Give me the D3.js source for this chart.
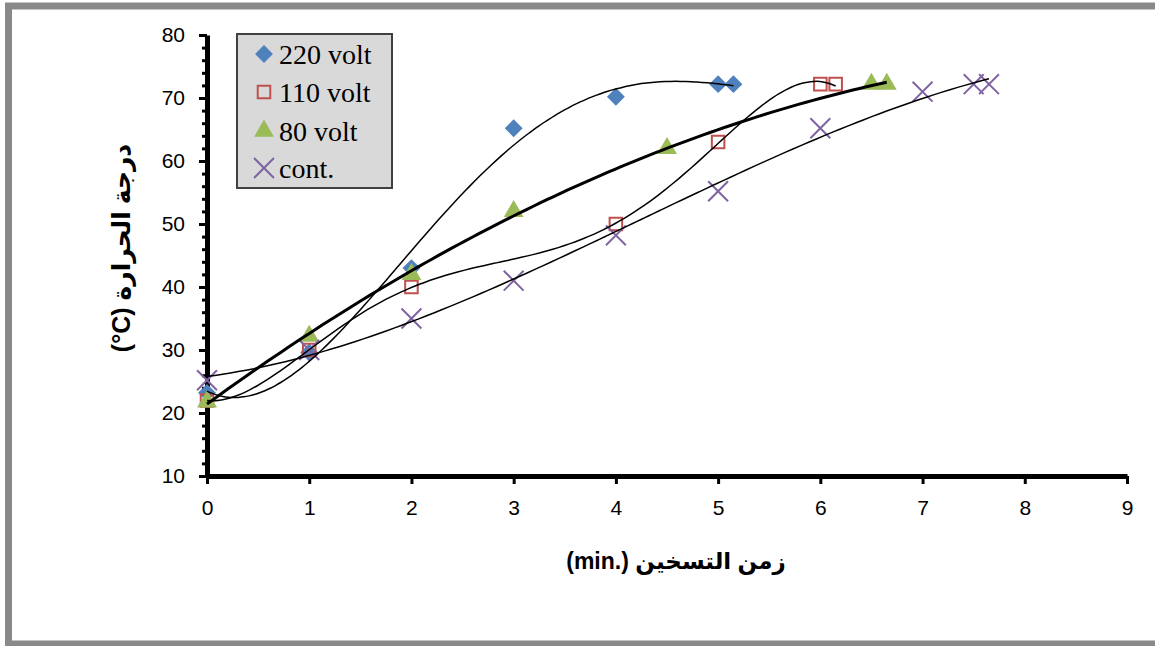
<!DOCTYPE html>
<html>
<head>
<meta charset="utf-8">
<script src="https://cdn.jsdelivr.net/npm/d3@7"></script>
<style>
  body { margin: 0; background: #fff; }
  svg { display: block; }
</style>
</head>
<body>
<div id="chart"></div>
<script>
// heating time (min.) and temperature (C)
var seriesNames = ["220 volt", "110 volt", "80 volt", "cont."];
var x220 = [0, 1, 2, 3, 4, 5, 5.15];
var t220 = [23.2, 29.6, 43, 65.2, 70.2, 72.2, 72.2];
var x110 = [0, 1, 2, 4, 5, 6, 6.15];
var t110 = [22, 30, 40, 50, 63, 72.2, 72.2];
var x80 = [0, 1, 2, 3, 4.5, 6.5, 6.65];
var t80 = [21.8, 32.2, 42, 52, 62, 72.2, 72.2];
var xCont = [0, 1, 2, 3, 4, 5, 6, 7, 7.5, 7.65];
var tCont = [25.2, 30, 35, 41, 48.2, 55.2, 65.2, 71, 72.2, 72.2];
// polynomial order of each trendline
var fitOrder = [4, 5, 2, 3];
var xTicks = [0, 1, 2, 3, 4, 5, 6, 7, 8, 9];
var yTicks = [10, 20, 30, 40, 50, 60, 70, 80];
var yMinor = d3.range(10, 81, 2);

var width = 1155, height = 646;
var colors = ["#4f81bd", "#c0504d", "#9bbb59", "#8064a2"];

var series = [
  {name: seriesNames[0], xs: x220, ys: t220},
  {name: seriesNames[1], xs: x110, ys: t110},
  {name: seriesNames[2], xs: x80, ys: t80},
  {name: seriesNames[3], xs: xCont, ys: tCont}
];

var svg = d3.select("#chart").append("svg")
    .attr("width", width).attr("height", height);

// grey frame round the whole chart
svg.append("rect")
    .attr("x", 8.5).attr("y", 6)
    .attr("width", 1170).attr("height", 638)
    .attr("fill", "none")
    .attr("stroke", "#898989")
    .attr("stroke-width", 7);

var x = d3.scaleLinear().domain([0, 9]).range([207, 1127]);
var y = d3.scaleLinear().domain([10, 80]).range([476, 35]);

// least squares polynomial fit, like the excel trendline
function polyfit(xs, ys, n) {
  var m = n + 1, A = [], i, j, k;
  for (i = 0; i < m; i++) {
    A.push([]);
    for (j = 0; j < m; j++) {
      A[i].push(d3.sum(xs, function(v) { return Math.pow(v, i + j); }));
    }
    A[i].push(d3.sum(xs, function(v, idx) { return Math.pow(v, i) * ys[idx]; }));
  }
  for (i = 0; i < m; i++) {
    var p = i;
    for (k = i + 1; k < m; k++) if (Math.abs(A[k][i]) > Math.abs(A[p][i])) p = k;
    var tmp = A[i]; A[i] = A[p]; A[p] = tmp;
    for (k = i + 1; k < m; k++) {
      var f = A[k][i] / A[i][i];
      for (j = i; j <= m; j++) A[k][j] -= f * A[i][j];
    }
  }
  var c = new Array(m).fill(0);
  for (i = m - 1; i >= 0; i--) {
    var s = A[i][m];
    for (j = i + 1; j < m; j++) s -= A[i][j] * c[j];
    c[i] = s / A[i][i];
  }
  return function(v) {
    return d3.sum(c, function(ci, idx) { return ci * Math.pow(v, idx); });
  };
}

// axes
var yMinorAxis = svg.append("g")
    .attr("transform", "translate(" + x(0) + ",0)")
    .call(d3.axisLeft(y).tickValues(yMinor).tickSize(5).tickFormat(""));
yMinorAxis.selectAll("line").attr("stroke", "#000").attr("stroke-width", 3);
yMinorAxis.select(".domain").remove();

var yAxis = svg.append("g")
    .attr("transform", "translate(" + x(0) + ",0)")
    .call(d3.axisLeft(y).tickValues(yTicks).tickSize(8).tickSizeOuter(0).tickPadding(14));
yAxis.select(".domain").attr("stroke", "#000").attr("stroke-width", 5);
yAxis.selectAll("line").attr("stroke", "#000").attr("stroke-width", 3);
yAxis.selectAll("text")
    .attr("font-family", "Liberation Sans, Arial, sans-serif")
    .attr("font-size", 21).attr("fill", "#000");

var xAxis = svg.append("g")
    .attr("transform", "translate(0," + y(10) + ")")
    .call(d3.axisBottom(x).tickValues(xTicks).tickSize(8).tickSizeOuter(0).tickPadding(16));
xAxis.select(".domain").attr("stroke", "#000").attr("stroke-width", 5);
xAxis.selectAll("line").attr("stroke", "#000").attr("stroke-width", 3);
xAxis.selectAll("text")
    .attr("font-family", "Liberation Sans, Arial, sans-serif")
    .attr("font-size", 21).attr("fill", "#000");

// axis titles
svg.append("text")
    .attr("x", 676).attr("y", 569)
    .attr("text-anchor", "middle")
    .attr("font-family", "Liberation Sans, DejaVu Sans, sans-serif")
    .attr("font-weight", "bold").attr("font-size", 23)
    .attr("direction", "ltr")
    .text("(min.) زمن التسخين");

svg.append("text")
    .attr("transform", "translate(130,248) rotate(-90)")
    .attr("text-anchor", "middle")
    .attr("font-family", "Liberation Sans, DejaVu Sans, sans-serif")
    .attr("font-weight", "bold").attr("font-size", 25)
    .attr("direction", "ltr")
    .text("(°C)  درجة الحرارة");

// marker shapes
var symbols = [
  d3.symbol(d3.symbolSquare, 160),
  d3.symbol(d3.symbolSquare2, 200),
  d3.symbol(d3.symbolTriangle, 170),
  d3.symbol(d3.symbolTimes, 260)
];
function drawMarker(sel, i) {
  var p = sel.append("path").attr("d", symbols[i]());
  if (i === 0) p.attr("fill", colors[0]).attr("transform", "rotate(45)");
  if (i === 1) p.attr("fill", "none").attr("stroke", colors[1]).attr("stroke-width", 2);
  if (i === 2) p.attr("fill", colors[2]);
  if (i === 3) p.attr("fill", "none").attr("stroke", colors[3]).attr("stroke-width", 2);
  return p;
}

series.forEach(function(s, i) {
  var g = svg.append("g").attr("class", "series");
  s.xs.forEach(function(v, j) {
    var m = g.append("g")
        .attr("transform", "translate(" + x(v) + "," + y(s.ys[j]) + ")");
    drawMarker(m, i);
  });
});

// trendlines
var line = d3.line()
    .x(function(d) { return x(d[0]); })
    .y(function(d) { return y(d[1]); })
    .curve(d3.curveMonotoneX);

series.forEach(function(s, i) {
  var f = polyfit(s.xs, s.ys, fitOrder[i]);
  var x0 = d3.min(s.xs), x1 = d3.max(s.xs);
  var pts = d3.range(0, 101).map(function(k) {
    var v = x0 + (x1 - x0) * k / 100;
    return [v, f(v)];
  });
  svg.append("path")
      .datum(pts)
      .attr("d", line)
      .attr("fill", "none")
      .attr("stroke", "#000")
      .attr("stroke-width", i === 2 ? 3 : 1.5);
});

// legend
var legend = svg.append("g").attr("transform", "translate(237,34)");
legend.append("rect")
    .attr("width", 155).attr("height", 154)
    .attr("fill", "#d9d9d9")
    .attr("stroke", "#404040")
    .attr("stroke-width", 2);
var rows = [20, 58, 97, 134];
series.forEach(function(s, i) {
  var r = legend.append("g").attr("transform", "translate(0," + rows[i] + ")");
  var m = r.append("g").attr("transform", "translate(27,0)");
  drawMarker(m, i);
  r.append("text")
      .attr("x", 42).attr("y", 0).attr("dy", "0.35em")
      .attr("font-family", "Liberation Serif, Times New Roman, serif")
      .attr("font-size", 28).attr("fill", "#000")
      .text(s.name);
});
</script>
</body>
</html>
